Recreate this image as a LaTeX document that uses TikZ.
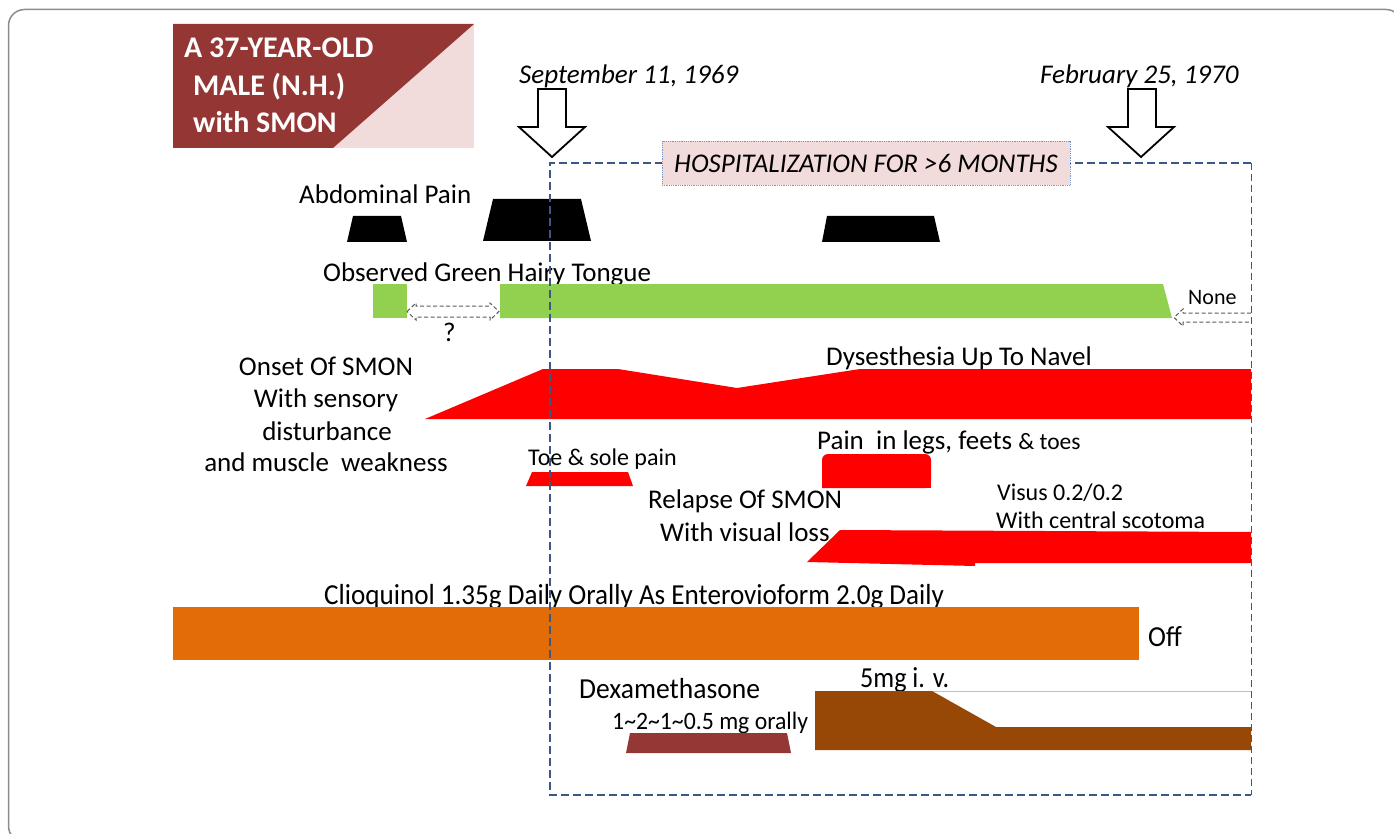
\documentclass[tikz,border=0pt]{standalone}
\usepackage{fontspec}
\setmainfont{Carlito}
\usetikzlibrary{calc}
\definecolor{titleRed}{RGB}{148,54,52}
\definecolor{titlePink}{RGB}{242,220,219}
\definecolor{tGreen}{RGB}{146,208,80}
\definecolor{tRed}{RGB}{255,0,0}
\definecolor{tOrange}{RGB}{227,108,9}
\definecolor{tBrown}{RGB}{151,72,6}
\definecolor{tDarkRed}{RGB}{149,55,53}
\definecolor{boxBlue}{RGB}{58,88,130}
\definecolor{lightBlue}{RGB}{120,150,200}
\definecolor{frameGray}{RGB}{140,140,140}
\definecolor{arrGray}{RGB}{90,90,90}
\tikzset{
  lbl/.style={inner sep=0pt, font=\fontsize{27}{31}\selectfont, anchor=base west},
  lblc/.style={inner sep=0pt, font=\fontsize{27}{31}\selectfont, anchor=base},
  small/.style={inner sep=0pt, font=\fontsize{24}{28}\selectfont, anchor=base west},
  narrow/.style={inner sep=0pt, font=\fontsize{29}{33}\selectfont, anchor=base west},
  datefont/.style={inner sep=0pt, font=\fontsize{27}{31}\selectfont\itshape, anchor=base west},
  titlefont/.style={inner sep=0pt, font=\fontsize{30}{35}\selectfont\bfseries, text=white, anchor=base west},
  blockarrow/.style={draw=black, line width=1.8pt, fill=white, line join=miter},
  hollowdash/.style={draw=arrGray, line width=1pt, dash pattern=on 4pt off 2.5pt},
  hospthick/.style={draw=boxBlue, line width=2.5pt, dash pattern=on 8pt off 4pt},
  hospthin/.style={draw=boxBlue, line width=1pt, dash pattern=on 7pt off 4pt},
}
\begin{document}
\begin{tikzpicture}[x=1pt,y=-1pt]
\useasboundingbox (0,0) rectangle (1394,834);
\clip (0,0) rectangle (1394,834);
% outer frame
\draw[frameGray, line width=1.5pt, rounded corners=16pt] (8.5,9.5) rectangle (1402,842);

% title box
\fill[titlePink] (173,24) rectangle (474,148);
\fill[titleRed] (173,24) -- (474,24) -- (333,148) -- (173,148) -- cycle;
\node[titlefont] (t1) at (184,58) {A 37-YEAR-OLD};
\node[titlefont] (t2) at (193,96) {MALE (N.H.)};
\node[titlefont] (t3) at (193,133) {with SMON};

% dates
\node[datefont] (d1) at (519,84) {September 11, 1969};
\node[datefont] (d2) at (1040,84) {February 25, 1970};

% block arrows
\draw[blockarrow] (538,89) -- (566,89) -- (566,127) -- (585,127) -- (552,157) -- (519,127) -- (538,127) -- cycle;
\draw[blockarrow] (1128,89) -- (1156,89) -- (1156,127) -- (1174,127) -- (1141,157) -- (1108,127) -- (1128,127) -- cycle;

% abdominal pain
\node[lbl] (abd) at (299,204) {Abdominal Pain};
\fill[black] (347,242) -- (353,216) -- (401,216) -- (407,242) -- cycle;
\fill[black] (483,241) -- (493,199) -- (581,199) -- (591,241) -- cycle;
\fill[black] (822,242) -- (827,216) -- (934,216) -- (940,242) -- cycle;

% green hairy tongue
\node[lbl] (ght) at (323,281) {Observed Green Hairy Tongue};
\fill[tGreen] (373,284) rectangle (407,318);
\fill[tGreen] (500,284) -- (1163,284) -- (1172,318) -- (500,318) -- cycle;
\draw[hollowdash] (407,311.5) -- (416,303) -- (416,306) -- (490,306) -- (490,303) -- (499,311.5) -- (490,320) -- (490,317) -- (416,317) -- (416,320) -- cycle;
\node[lbl] (q) at (443,341) {?};
\node[inner sep=0pt, anchor=base west, font=\fontsize{22}{26}\selectfont] (none) at (1188,304) {None};
\draw[hollowdash] (1251,313) -- (1183,313) -- (1183,309) -- (1174,317.5) -- (1183,326) -- (1183,322) -- (1251,322);

% onset of SMON
\node[lblc] (o1) at (326,375) {Onset Of SMON};
\node[lblc] (o2) at (326,407) {With sensory};
\node[lblc] (o3) at (327,440) {disturbance};
\node[lblc] (o4) at (326,471) {and muscle\ \ weakness};
\fill[tRed] (425,419) -- (543,369) -- (618,369) -- (737,388) -- (860,369) -- (1251,369) -- (1251,419) -- cycle;
\node[lbl] (dys) at (826,365) {Dysesthesia Up To Navel};

% toe & sole
\node[small] (toe) at (528,465) {Toe \& sole pain};
\fill[tRed] (526,486) -- (532,472) -- (628,472) -- (633,486) -- cycle;

% pain in legs
\node[inner sep=0pt, anchor=base west] (legs) at (817,449) {\fontsize{27}{31}\selectfont Pain\ \ in legs, feets \fontsize{23.5}{27}\selectfont\& toes};
\fill[tRed, rounded corners=6pt] (822,488) -- (822,454) -- (931,454) -- (931,488) [sharp corners] -- cycle;
\fill[tRed] (822,470) rectangle (931,488);

% relapse
\node[lbl] (rel1) at (648,508) {Relapse Of SMON};
\node[lbl] (rel2) at (660,541) {With visual loss};
\node[small] (vis1) at (997,500) {Visus 0.2/0.2};
\node[small] (vis2) at (996,528) {With central scotoma};
\fill[tRed] (840,530) -- (1251,532) -- (1251,563) -- (975,563) -- (975,566) -- (807,562) -- cycle;

% clioquinol
\node[narrow] (clio) at (324,604) {\scalebox{0.935}[1]{Clioquinol 1.35g Daily Orally As Enterovioform 2.0g Daily}};
\fill[tOrange] (173,607) rectangle (1139,660);
\node[narrow] (off) at (1148,646) {\scalebox{0.93}[1]{Off}};

% dexamethasone
\draw[gray!50, line width=0.8pt] (932,691) -- (1251,691);
\node[narrow] (dexa) at (579,698) {\scalebox{0.95}[1]{Dexamethasone}};
\node[narrow] (iv) at (860,687) {\scalebox{0.9}[1]{5mg i. v.}};
\node[inner sep=0pt, anchor=base west, font=\fontsize{25}{29}\selectfont] (oral) at (612,729) {\scalebox{0.95}[1]{1\textasciitilde 2\textasciitilde 1\textasciitilde 0.5 mg orally}};
\fill[tDarkRed] (626,753) -- (630,733) -- (787,733) -- (791,753) -- cycle;
\fill[tBrown] (815,691) -- (932,691) -- (996,727) -- (1251,727) -- (1251,750) -- (815,750) -- cycle;

% hospitalization box
\draw[hospthin] (1251,163) -- (1251,795);
\draw[hospthick] (1251,163) -- (550,163) -- (550,795) -- (1251,795);
\node[draw=lightBlue, densely dotted, line width=0.8pt, fill=titlePink, minimum width=408pt, minimum height=44pt, inner sep=0pt, font=\fontsize{27}{31}\selectfont\itshape] (hosp) at (866,163) {HOSPITALIZATION FOR >6 MONTHS};
\end{tikzpicture}
\end{document}
